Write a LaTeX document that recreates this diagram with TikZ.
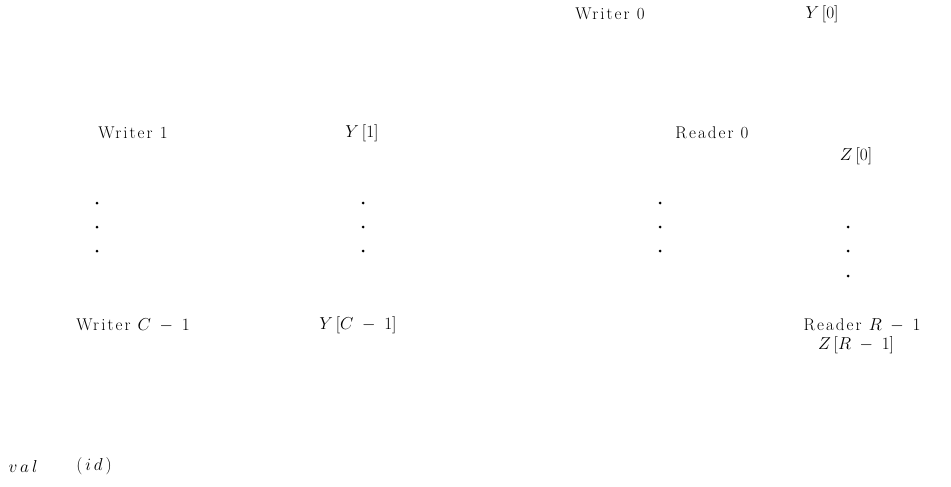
\documentclass[tikz,border=0pt]{standalone}
\usepackage{fontspec}
\setmainfont{Latin Modern Roman}[LetterSpace=12]
\tikzset{lbl/.style={inner sep=0pt, font=\fontsize{17}{19}\selectfont}}
\begin{document}
\begin{tikzpicture}[x=1pt,y=-1pt]
\useasboundingbox (0,0) rectangle (951,487);
\node[lbl] (w0) at (610,14) {Writer 0};
\node[lbl] (y0) at (822,14) {$Y\,[0]$};
\node[lbl] (w1) at (133,133) {Writer 1};
\node[lbl] (y1) at (362,133) {$Y\,[1]$};
\node[lbl] (r0) at (712,133) {Reader 0};
\node[lbl] (z0) at (856,156) {$Z\,[0]$};
\node[lbl] (wc) at (133,325) {Writer $C\;-\;1$};
\node[lbl] (yc) at (358,325) {$Y\,[C\;-\;1]$};
\node[lbl] (rr) at (862,325) {Reader $R\;-\;1$};
\node[lbl] (zr) at (856,345) {$Z\,[R\;-\;1]$};
\node[lbl] (val) at (23,466) {$v\,a\,l$};
\node[lbl] (id) at (94,466) {$(\,i\,d\,)$};
\foreach \x in {97,363,660}
  \foreach \y in {203,227,251}
    \fill (\x,\y) circle (1.5);
\foreach \y in {227,251,276}
  \fill (848,\y) circle (1.5);
\end{tikzpicture}
\end{document}
